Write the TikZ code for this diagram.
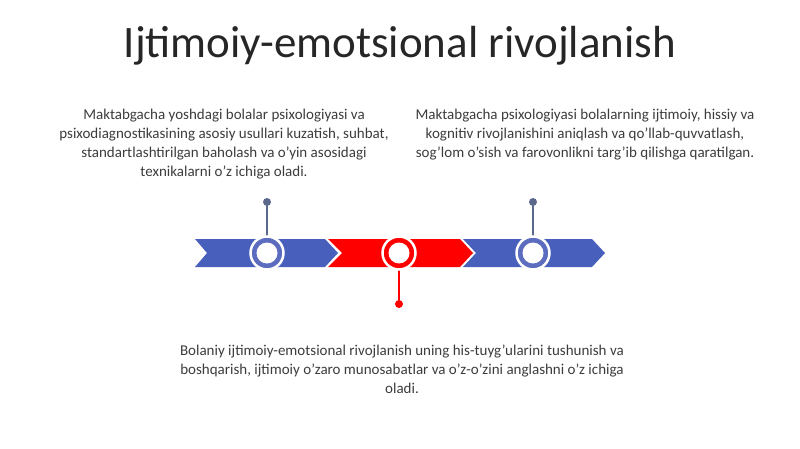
\documentclass[tikz,border=0pt]{standalone}
\usepackage{fontspec}
\setmainfont{Carlito}
\definecolor{segblue}{RGB}{72,96,188}
\definecolor{ringblue}{RGB}{92,108,190}
\definecolor{segred}{RGB}{255,0,0}
\definecolor{stemblue}{RGB}{90,104,140}
\definecolor{txt}{RGB}{60,60,60}
\begin{document}
\begin{tikzpicture}[x=1pt,y=-1pt,
  body/.style={align=center,font=\fontsize{15}{19}\selectfont,text=txt,inner sep=0pt},
  ring/.style={circle,draw=white,line width=2.5pt,fill=white,minimum size=33pt,inner sep=0pt,
    path picture={\fill[#1] (path picture bounding box.center) circle (17);
                  \fill[white] (path picture bounding box.center) circle (10.5);}},
  dot/.style={circle,inner sep=0pt,minimum size=8pt,fill=#1}]
\useasboundingbox (0,0) rectangle (800,449);
\node[font=\fontsize{45}{50}\selectfont,text=black!85] (title) at (400,46) {Ijtimoiy-emotsional rivojlanish};
\node[body] (tl) at (224,144.5) {Maktabgacha yoshdagi bolalar psixologiyasi va\\psixodiagnostikasining asosiy usullari kuzatish, suhbat,\\standartlashtirilgan baholash va o'yin asosidagi\\texnikalarni o'z ichiga oladi.};
\node[body] (tr) at (585,135) {Maktabgacha psixologiyasi bolalarning ijtimoiy, hissiy va\\kognitiv rivojlanishini aniqlash va qo'llab-quvvatlash,\\sog'lom o'sish va farovonlikni targ'ib qilishga qaratilgan.};
\node[body] (bt) at (402,369.5) {Bolaniy ijtimoiy-emotsional rivojlanish uning his-tuyg'ularini tushunish va\\boshqarish, ijtimoiy o'zaro munosabatlar va o'z-o'zini anglashni o'z ichiga\\oladi.};
% chevron segments
\fill[segblue] (195,239) -- (325,239) -- (338,253) -- (325,267) -- (195,267) -- (207,253) -- cycle;
\fill[segred] (328,239) -- (460,239) -- (473,253) -- (460,267) -- (328,267) -- (342,253) -- cycle;
\fill[segblue] (463,239) -- (592,239) -- (605,253) -- (592,267) -- (463,267) -- (476,253) -- cycle;
% stems
\node[dot=stemblue] (d1) at (267,202) {};
\node[dot=segred] (d2) at (399,304) {};
\node[dot=stemblue] (d3) at (533,202) {};
\draw[stemblue,line width=1.2pt] (d1) -- (267,236);
\draw[segred,line width=1.2pt] (d2) -- (399,270);
\draw[stemblue,line width=1.2pt] (d3) -- (533,236);
% rings
\node[ring=ringblue] (c1) at (267,253) {};
\node[ring=segred] (c2) at (399,253) {};
\node[ring=ringblue] (c3) at (533,253) {};
\end{tikzpicture}
\end{document}
